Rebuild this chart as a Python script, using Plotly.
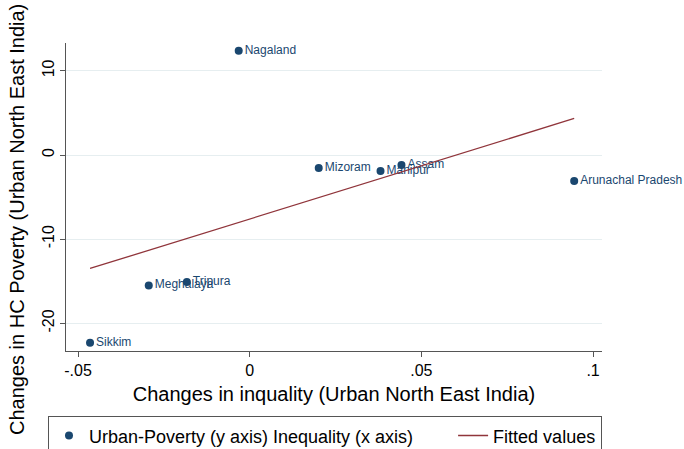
import numpy as np
import plotly.graph_objects as go

# Changes in inequality (x) and in head-count poverty (y), urban North East India
states = ["Nagaland", "Mizoram", "Manipur", "Assam", "Arunachal Pradesh",
          "Tripura", "Meghalaya", "Sikkim"]
ineq_change = [-0.0032, 0.0201, 0.0381, 0.0442, 0.0945, -0.0183, -0.0294, -0.0465]
pov_change = [12.38, -1.55, -1.90, -1.20, -3.10, -15.10, -15.50, -22.30]

x_ticks = [-0.05, 0, 0.05, 0.1]
x_ticklabels = ["-.05", "0", ".05", ".1"]
y_ticks = [-20, -10, 0, 10]
y_ticklabels = ["-20", "-10", "0", "10"]

NAVY = "#1a476f"
MAROON = "#90353b"
AXIS_GRAY = "#555555"
FONT = "Liberation Sans, Arial, sans-serif"

# Least-squares fitted line over the observed x span
slope, intercept = np.polyfit(ineq_change, pov_change, 1)
fit_x = np.array([min(ineq_change), max(ineq_change)])
fit_y = intercept + slope * fit_x

# non-breaking spaces widen the first legend entry
PAD = "\u00a0" * 7

fig = go.Figure()
fig.add_trace(go.Scatter(
    x=ineq_change, y=pov_change, mode="markers+text",
    text=states, textposition="middle right",
    textfont=dict(family=FONT, size=12, color=NAVY),
    marker=dict(color=NAVY, size=8),
    cliponaxis=False,
    name="Urban-Poverty (y axis) Inequality (x axis)" + PAD,
))
fig.add_trace(go.Scatter(
    x=fit_x, y=fit_y, mode="lines",
    line=dict(color=MAROON, width=1.3),
    name="Fitted values",
))

fig.update_layout(
    width=684, height=449,
    margin=dict(l=66, r=82, t=43, b=98, autoexpand=False),
    paper_bgcolor="white", plot_bgcolor="white",
    font=dict(family=FONT, color="#000000"),
    showlegend=True,
    legend=dict(
        orientation="h", x=-0.0336, xanchor="left",
        y=-0.212, yanchor="top",
        bordercolor=AXIS_GRAY, borderwidth=1,
        font=dict(family=FONT, size=18, color="#000000"),
        itemwidth=30,
    ),
    annotations=[dict(
        text="Changes in HC Poverty (Urban North East India)",
        textangle=-90, showarrow=False,
        xref="paper", yref="paper", x=-0.0914, y=0.4253,
        xanchor="center", yanchor="middle",
        font=dict(family=FONT, size=20, color="#000000"),
    )],
)

fig.update_xaxes(
    range=[-0.0535, 0.1026],
    tickvals=x_ticks, ticktext=x_ticklabels,
    tickfont=dict(family=FONT, size=16, color="#000000"),
    ticks="outside", ticklen=5, tickcolor=AXIS_GRAY,
    showline=True, linecolor=AXIS_GRAY, linewidth=1,
    showgrid=False, zeroline=False,
    title=dict(text="Changes in inquality (Urban North East India)",
               font=dict(family=FONT, size=20, color="#000000"), standoff=8),
)
fig.update_yaxes(
    range=[-23.29, 13.31],
    tickvals=y_ticks, ticktext=y_ticklabels,
    tickangle=-90,
    tickfont=dict(family=FONT, size=16, color="#000000"),
    ticks="outside", ticklen=5, tickcolor=AXIS_GRAY,
    showline=True, linecolor=AXIS_GRAY, linewidth=1,
    showgrid=True, gridcolor="#e6eef0", gridwidth=1, zeroline=False,
)

fig.write_html("out.html")
